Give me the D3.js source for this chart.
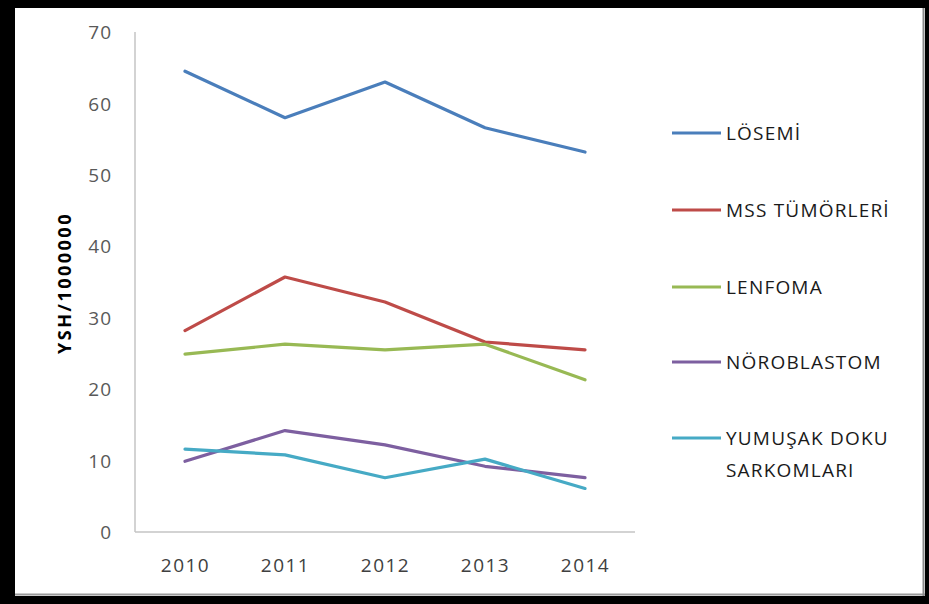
<!DOCTYPE html>
<html>
<head>
<meta charset="utf-8">
<script src="https://cdn.jsdelivr.net/npm/d3@7"></script>
<style>
  html, body { margin: 0; padding: 0; background: #000; }
  svg { display: block; }
</style>
</head>
<body>
<svg id="chart" width="929" height="604"></svg>
<script>
// Childhood cancer incidence per 1,000,000, 2010–2014
const years = ["2010", "2011", "2012", "2013", "2014"];
const yTicks = [0, 10, 20, 30, 40, 50, 60, 70];
const seriesNames = ["LÖSEMİ", "MSS TÜMÖRLERİ", "LENFOMA", "NÖROBLASTOM", "YUMUŞAK DOKU SARKOMLARI"];
const losemi = [64.5, 58.0, 63.0, 56.6, 53.2];
const mss = [28.2, 35.7, 32.2, 26.6, 25.5];
const lenfoma = [24.9, 26.3, 25.5, 26.3, 21.3];
const noroblastom = [9.9, 14.2, 12.2, 9.2, 7.6];
const yumusak = [11.6, 10.8, 7.6, 10.2, 6.1];
const colors = ["#4a7ebb", "#be4b48", "#98b954", "#7d5fa0", "#46aac5"];

const allSeries = [losemi, mss, lenfoma, noroblastom, yumusak];

const svg = d3.select("#chart");

// frame: white panel inside a thick black border
svg.append("rect").attr("x", 0).attr("y", 0).attr("width", 929).attr("height", 604).attr("fill", "#000");
svg.append("rect").attr("x", 15).attr("y", 8).attr("width", 910).attr("height", 588).attr("fill", "#fff");
svg.append("line").attr("x1", 15).attr("x2", 925).attr("y1", 594.5).attr("y2", 594.5)
  .attr("stroke", "#9a9a9a").attr("stroke-width", 2);
svg.append("line").attr("x1", 923.5).attr("x2", 923.5).attr("y1", 8).attr("y2", 596)
  .attr("stroke", "#8a8a8a").attr("stroke-width", 2);

const font = "'Open Sans', 'Noto Sans', sans-serif";

const x = d3.scalePoint().domain(years).range([185, 585]);
const y = d3.scaleLinear().domain([0, 70]).range([532, 32]);

// axes lines
svg.append("line").attr("x1", 135).attr("x2", 135).attr("y1", y(70)).attr("y2", y(0))
  .attr("stroke", "#c4c4c4").attr("stroke-width", 1.5);
svg.append("line").attr("x1", 135).attr("x2", 635).attr("y1", y(0)).attr("y2", y(0))
  .attr("stroke", "#c4c4c4").attr("stroke-width", 1.5);

// y tick labels
const yAxis = d3.axisLeft(y).tickValues(yTicks).tickSize(0).tickPadding(0);
const gy = svg.append("g").attr("transform", "translate(112,0)").call(yAxis);
gy.select(".domain").remove();
gy.selectAll("text").attr("font-family", font).attr("font-size", 19)
  .attr("letter-spacing", 1)
  .attr("fill", "#595959").attr("text-anchor", "end").attr("dy", "0.35em");

// x tick labels
const xAxis = d3.axisBottom(x).tickSize(0).tickPadding(0);
const gx = svg.append("g").attr("transform", "translate(0,565)").call(xAxis);
gx.select(".domain").remove();
gx.selectAll("text").attr("font-family", font).attr("font-size", 19)
  .attr("letter-spacing", 1.5)
  .attr("fill", "#404040").attr("dy", "0.35em");

// y axis title
svg.append("text")
  .attr("transform", "translate(65,283) rotate(-90)")
  .attr("text-anchor", "middle").attr("dy", "0.35em")
  .attr("font-family", font).attr("font-size", 18).attr("font-weight", "bold")
  .attr("letter-spacing", 2.5)
  .attr("fill", "#000")
  .text("YSH/1000000");

// series lines
const line = d3.line().x((d, i) => x(years[i])).y(d => y(d));
svg.append("g").selectAll("path").data(allSeries).join("path")
  .attr("d", d => line(d))
  .attr("fill", "none")
  .attr("stroke", (d, i) => colors[i])
  .attr("stroke-width", 3.2)
  .attr("stroke-linejoin", "round")
  .attr("stroke-linecap", "round");

// legend
const legendY = [133, 210, 287, 362, 438];
const legend = svg.append("g");
seriesNames.forEach((name, i) => {
  const g = legend.append("g").attr("transform", `translate(0,${legendY[i]})`);
  g.append("line").attr("x1", 672).attr("x2", 721).attr("y1", 0).attr("y2", 0)
    .attr("stroke", colors[i]).attr("stroke-width", 3.2);
  const t = g.append("text").attr("x", 726).attr("y", 0).attr("dy", "0.35em")
    .attr("font-family", font).attr("font-size", 19).attr("letter-spacing", 1.2)
    .attr("fill", "#1a1a1a");
  if (name === "YUMUŞAK DOKU SARKOMLARI") {
    t.append("tspan").attr("x", 726).text("YUMUŞAK DOKU");
    t.append("tspan").attr("x", 726).attr("dy", 32).text("SARKOMLARI");
  } else {
    t.text(name);
  }
});
</script>
</body>
</html>
